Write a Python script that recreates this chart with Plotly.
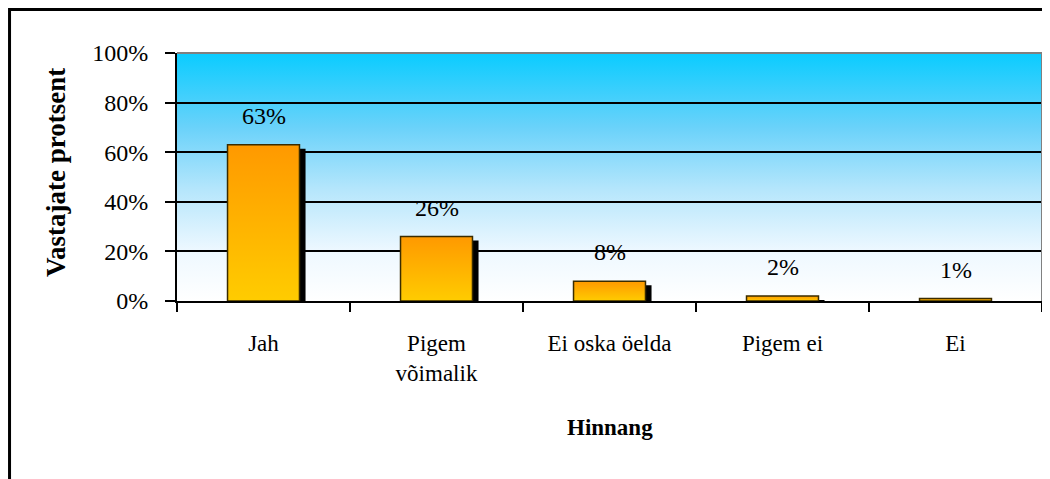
import base64
import plotly.graph_objects as go

categories = ["Jah", "Pigem<br>võimalik", "Ei oska öelda", "Pigem ei", "Ei"]
values = [63, 26, 8, 2, 1]
value_labels = ["63%", "26%", "8%", "2%", "1%"]
y_ticks = [0, 20, 40, 60, 80, 100]

FONT = "'Liberation Serif', 'Times New Roman', Times, serif"
half_w = 0.208      # half bar width, in category units
shadow_dx = 0.035   # shadow offset to the right
shadow_dy = 1.6     # shadow starts this much lower than the bar top

# gradient backdrop for the plot area (svg, so no network needed)
bg_svg = (
    '<svg xmlns="http://www.w3.org/2000/svg" width="100" height="100" preserveAspectRatio="none">'
    '<defs><linearGradient id="g" x1="0" y1="0" x2="0" y2="1">'
    '<stop offset="0" stop-color="#0ACCFF"/>'
    '<stop offset="0.3" stop-color="#6AD2FA"/>'
    '<stop offset="0.55" stop-color="#B5E6FC"/>'
    '<stop offset="0.8" stop-color="#EEF8FF"/>'
    '<stop offset="1" stop-color="#FFFFFF"/>'
    '</linearGradient></defs>'
    '<rect width="100" height="100" fill="url(#g)"/></svg>'
)
bg_src = "data:image/svg+xml;base64," + base64.b64encode(bg_svg.encode()).decode()

fig = go.Figure()

# drop shadows behind the bars
fig.add_trace(go.Bar(
    x=[i + shadow_dx for i in range(len(values))],
    y=[max(v - shadow_dy, 0) for v in values],
    width=2 * half_w,
    marker=dict(color="black", line=dict(width=0)),
    hoverinfo="skip",
    showlegend=False,
))

# bars with vertical orange -> yellow gradient
for i, v in enumerate(values):
    fig.add_trace(go.Scatter(
        x=[i - half_w, i + half_w, i + half_w, i - half_w, i - half_w],
        y=[0, 0, v, v, 0],
        mode="lines",
        fill="toself",
        fillgradient=dict(type="vertical",
                          colorscale=[[0, "#FFCC00"], [1, "#FF9900"]]),
        line=dict(color="#3A2C00", width=1.5),
        hoverinfo="skip",
        showlegend=False,
    ))

for i, (v, t) in enumerate(zip(values, value_labels)):
    fig.add_annotation(x=i, y=v, text=t, showarrow=False, yshift=29,
                       xanchor="center", yanchor="middle",
                       font=dict(family=FONT, size=24, color="black"))

fig.add_annotation(x=0.5, y=-0.512, xref="paper", yref="paper", text="<b>Hinnang</b>",
                   showarrow=False, xanchor="center", yanchor="middle",
                   font=dict(family=FONT, size=23, color="black"))
fig.add_annotation(x=-0.14, y=0.52, xref="paper", yref="paper",
                   text="<b>Vastajate protsent</b>", textangle=-90, showarrow=False,
                   xanchor="center", yanchor="middle",
                   font=dict(family=FONT, size=27, color="black"))

fig.add_layout_image(source=bg_src, xref="x", yref="y", x=-0.5, y=100,
                     sizex=5, sizey=100, sizing="stretch", layer="below")

# grey frame on top and right, black outer border
fig.add_shape(type="line", xref="paper", yref="paper", x0=0, x1=1, y0=1, y1=1,
              line=dict(color="#808080", width=2))
fig.add_shape(type="line", xref="paper", yref="paper", x0=1, x1=1, y0=0, y1=1,
              line=dict(color="#808080", width=2))
fig.add_shape(type="rect", xref="paper", yref="paper", x0=-0.1936, x1=1.02,
              y0=-0.75, y1=1.1754, line=dict(color="black", width=3))

# page has an 8px body margin, so the figure is 8px smaller and shifted
fig.update_layout(
    width=1042, height=471,
    margin=dict(l=169, r=8, t=45, b=178),
    paper_bgcolor="white",
    plot_bgcolor="rgba(0,0,0,0)",
    barmode="overlay",
    showlegend=False,
    font=dict(family=FONT, color="black"),
)
fig.update_xaxes(
    range=[-0.5, 4.5], tickvals=list(range(len(categories))), ticktext=categories,
    ticks="", showgrid=False, zeroline=False,
    showline=True, linecolor="black", linewidth=2,
    tickfont=dict(family=FONT, size=23, color="black"),
    ticklabelstandoff=20,
    minor=dict(tickvals=[i - 0.5 for i in range(len(categories) + 1)],
               ticks="outside", ticklen=9, tickwidth=2, tickcolor="black", showgrid=False),
)
fig.update_yaxes(
    range=[0, 100], tickvals=y_ticks, ticktext=[f"{t}%" for t in y_ticks],
    ticks="outside", ticklen=10, tickwidth=2, tickcolor="black",
    showgrid=True, gridcolor="black", gridwidth=1.5, zeroline=False,
    showline=True, linecolor="black", linewidth=2,
    tickfont=dict(family=FONT, size=24, color="black"),
    ticklabelstandoff=12,
)

fig.write_html("out.html")
